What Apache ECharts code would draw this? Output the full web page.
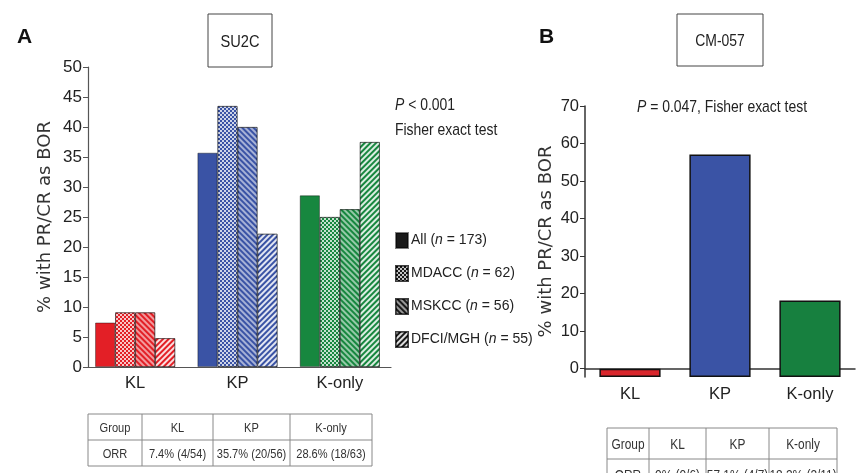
<!DOCTYPE html>
<html><head><meta charset="utf-8">
<script src="https://cdn.jsdelivr.net/npm/echarts@6/dist/echarts.min.js"></script>
<style>html,body{margin:0;padding:0;background:#fff}#c{width:861px;height:473px}</style>
</head><body><div id="c"></div>
<script>
// ---- data ----
const categoriesA = ['KL', 'KP', 'K-only'];
const seriesNamesA = ['All', 'MDACC', 'MSKCC', 'DFCI/MGH'];
const seriesCountsA = [173, 62, 56, 55];
const allA = [7.4, 35.7, 28.6];
const mdaccA = [9.1, 43.5, 25.0];
const mskccA = [9.1, 40.0, 26.3];
const dfciA = [4.8, 22.2, 37.5];
const yTicksA = [0, 5, 10, 15, 20, 25, 30, 35, 40, 45, 50];

const categoriesB = ['KL', 'KP', 'K-only'];
const valuesB = [0, 57.1, 18.2];
const yTicksB = [0, 10, 20, 30, 40, 50, 60, 70];

const tableHeader = ['Group', 'KL', 'KP', 'K-only'];
const tableRowA = ['ORR', '7.4% (4/54)', '35.7% (20/56)', '28.6% (18/63)'];
const tableRowB = ['ORR', '0% (0/6)', '57.1% (4/7)', '18.2% (2/11)'];

// ---- styles ----
const REG = "'Liberation Sans', Arial, sans-serif";
const WIDE = "'DejaVu Sans', Verdana, sans-serif";
const NX = 0.82; // horizontal squeeze emulating a condensed face
const catColorsA = ['#e31f26', '#3a53a5', '#17873f'];
const catColorsB = ['#d9262c', '#3a53a5', '#17803f'];
const decals = [
  null,
  { symbol: 'rect', symbolSize: 1, dashArrayX: [[2, 2], [0, 2, 2, 0]], dashArrayY: [2, 0], color: 'rgba(255,255,255,0.75)' },
  { symbol: 'rect', symbolSize: 1, rotation: Math.PI / 4, dashArrayX: [1, 0], dashArrayY: [1.5, 1.5], color: 'rgba(255,255,255,0.55)' },
  { symbol: 'rect', symbolSize: 1, rotation: -Math.PI / 4, dashArrayX: [1, 0], dashArrayY: [2, 2], color: 'rgba(255,255,255,0.85)' }
];
const seriesDataA = [allA, mdaccA, mskccA, dfciA];

const chart = echarts.init(document.getElementById('c'), null, { renderer: 'canvas' });

const seriesA = seriesNamesA.map((name, s) => {
  const itemStyle = { color: '#1a1a1a', borderColor: 'rgba(0,0,0,0.5)', borderWidth: 0.8 };
  if (decals[s]) itemStyle.decal = decals[s];
  return {
    name: name, type: 'bar', xAxisIndex: 0, yAxisIndex: 0,
    barWidth: 20, barGap: '0%',
    itemStyle: itemStyle,
    emphasis: { disabled: true },
    data: seriesDataA[s].map((v, i) => ({ value: v, itemStyle: { color: catColorsA[i] } }))
  };
});

const seriesB = {
  name: 'CM-057', type: 'bar', xAxisIndex: 1, yAxisIndex: 1,
  barWidth: '68%',
  itemStyle: { borderColor: '#111', borderWidth: 1.5 },
  emphasis: { disabled: true },
  data: valuesB.map((v, i) => ({ value: v, itemStyle: { color: catColorsB[i] } }))
};

function txt(x, y, text, size, opts) {
  opts = opts || {};
  return { type: 'text', x: x, y: y, scaleX: opts.scaleX || NX, scaleY: 1,
    style: Object.assign({ text: text, fill: '#222', font: size + 'px ' + REG,
      align: opts.align || 'left', verticalAlign: 'middle' }, opts.style || {}) };
}

function tableGraphics(colX, rowY, header, row, fontSize) {
  const g = [];
  const lc = '#888';
  rowY.forEach(y => g.push({ type: 'line', shape: { x1: colX[0], y1: y, x2: colX[colX.length - 1], y2: y }, style: { stroke: lc, lineWidth: 1 } }));
  colX.forEach(x => g.push({ type: 'line', shape: { x1: x, y1: rowY[0], x2: x, y2: rowY[rowY.length - 1] }, style: { stroke: lc, lineWidth: 1 } }));
  [header, row].forEach((cells, r) => {
    cells.forEach((t, c) => {
      g.push(txt((colX[c] + colX[c + 1]) / 2, (rowY[r] + rowY[r + 1]) / 2 + 1, t, fontSize, { align: 'center', style: { fill: '#333' } }));
    });
  });
  return g;
}

const richP = { i: { fontStyle: 'italic', fontSize: 17, fontFamily: REG, fill: '#222' } };
const graphics = [
  { type: 'text', x: 17, y: 27, style: { text: 'A', fill: '#111', font: 'bold 21px ' + REG } },
  { type: 'text', x: 539, y: 27, style: { text: 'B', fill: '#111', font: 'bold 21px ' + REG } },
  { type: 'rect', shape: { x: 208, y: 14, width: 64, height: 53 }, style: { fill: '#fff', stroke: '#444', lineWidth: 1 } },
  txt(240, 42, 'SU2C', 17, { align: 'center', scaleX: 0.86 }),
  { type: 'rect', shape: { x: 677, y: 14, width: 86, height: 52 }, style: { fill: '#fff', stroke: '#444', lineWidth: 1 } },
  txt(720, 41, 'CM-057', 17, { align: 'center' }),
  txt(395, 105, '{i|P} < 0.001', 17, { style: { rich: richP } }),
  txt(395, 130, 'Fisher exact test', 17),
  txt(722, 107, '{i|P} = 0.047, Fisher exact test', 17, { align: 'center', style: { rich: richP } })
].concat(
  tableGraphics([88, 142, 213, 290, 372], [414, 440, 466], tableHeader, tableRowA, 13.5),
  tableGraphics([607, 649, 706, 769, 837], [428, 459, 490], tableHeader, tableRowB, 14.5)
);

const option = {
  backgroundColor: '#fff',
  animation: false,
  grid: [
    { left: 84, top: 67, width: 307, height: 300 },
    { left: 585, top: 106, width: 270, height: 271 }
  ],
  legend: {
    data: seriesNamesA,
    orient: 'vertical', left: 395, top: 232, padding: 0,
    icon: 'rect',
    itemWidth: 12, itemHeight: 15, itemGap: 16,
    selectedMode: false,
    formatter: name => {
      const i = seriesNamesA.indexOf(name);
      return '{t|' + name + ' (}{i|n}{t| = ' + seriesCountsA[i] + ')}';
    },
    textStyle: {
      fontSize: 14, fontFamily: REG, color: '#222', padding: [0, 0, 0, -2],
      rich: {
        t: { fontSize: 14, fontFamily: REG, color: '#222' },
        i: { fontSize: 14, fontFamily: REG, color: '#222', fontStyle: 'italic' }
      }
    }
  },
  xAxis: [
    { type: 'category', gridIndex: 0, data: categoriesA,
      axisLine: { lineStyle: { color: '#555', width: 1.2 } }, axisTick: { show: false },
      axisLabel: { fontSize: 16.5, fontFamily: REG, color: '#222', margin: 8 } },
    { type: 'category', gridIndex: 1, data: categoriesB,
      axisLine: { lineStyle: { color: '#333', width: 1.5 } }, axisTick: { show: false },
      axisLabel: { fontSize: 16.5, fontFamily: REG, color: '#222', margin: 9 } }
  ],
  yAxis: [
    { type: 'value', gridIndex: 0, min: 0, max: 50, interval: 5, offset: -4,
      name: '% with PR/CR as BOR', nameLocation: 'middle', nameGap: 34,
      nameTextStyle: { fontSize: 18, fontFamily: WIDE, color: '#333' },
      axisLine: { show: true, lineStyle: { color: '#555', width: 1.2 } },
      axisTick: { show: true, length: 5, lineStyle: { color: '#555' } },
      axisLabel: { fontSize: 17, fontFamily: REG, color: '#222', margin: 6 },
      splitLine: { show: false } },
    { type: 'value', gridIndex: 1, min: -2.2, max: 70, startValue: -2.2,
      name: '% with PR/CR as BOR', nameLocation: 'middle', nameGap: 30,
      nameTextStyle: { fontSize: 18, fontFamily: WIDE, color: '#333' },
      axisLine: { show: true, lineStyle: { color: '#333', width: 1.5 } },
      axisTick: { show: true, length: 5, customValues: yTicksB, lineStyle: { color: '#333' } },
      axisLabel: { fontSize: 16.5, fontFamily: REG, color: '#222', margin: 6, customValues: yTicksB },
      splitLine: { show: false } }
  ],
  series: seriesA.concat([seriesB]),
  graphic: graphics
};
chart.setOption(option);
</script>
</body></html>
